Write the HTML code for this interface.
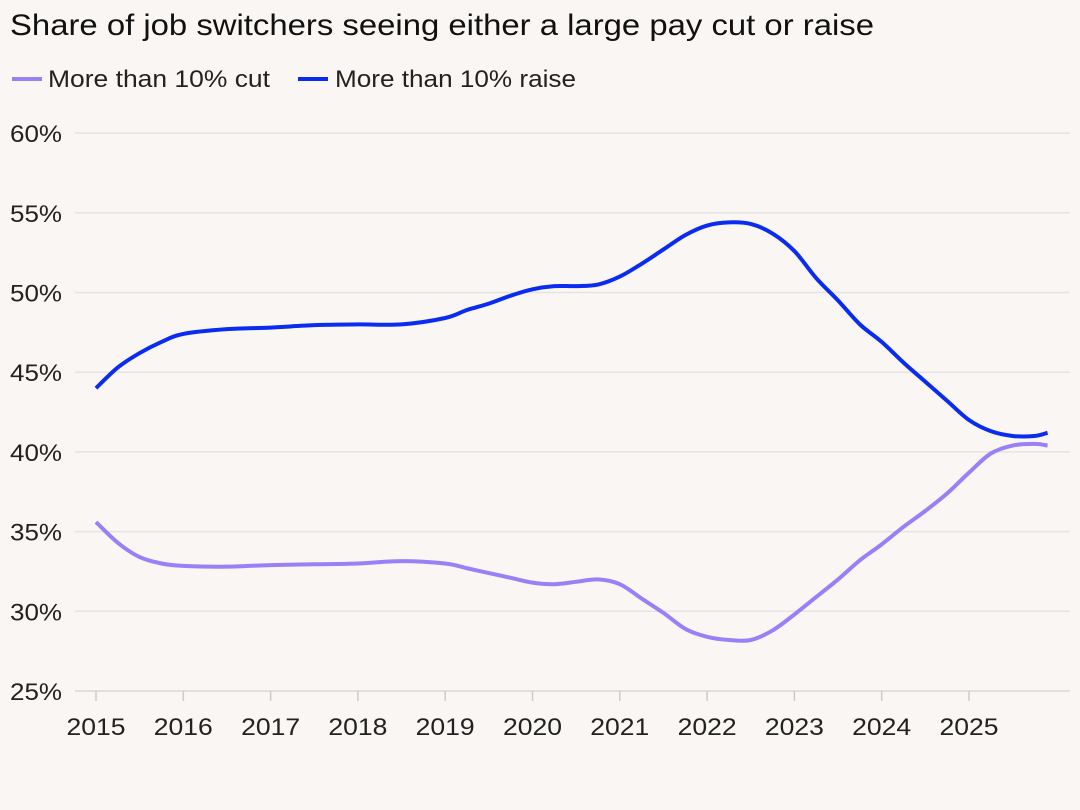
<!DOCTYPE html>
<html><head><meta charset="utf-8"><style>
body{margin:0;background:#f9f6f3;font-family:"Liberation Sans",sans-serif;}
svg{display:block}
</style></head><body>
<svg id="chart" width="1080" height="810">
<rect width="1080" height="810" fill="#f9f6f3"/>
<text x="10" y="35" font-size="30" fill="#111" textLength="864" lengthAdjust="spacingAndGlyphs">Share of job switchers seeing either a large pay cut or raise</text>
<g>
<g><line x1="12" y1="79" x2="42" y2="79" stroke="#9a80f7" stroke-width="4"/><text x="48" y="87" font-size="24" fill="#222" textLength="222" lengthAdjust="spacingAndGlyphs">More than 10% cut</text></g>
<g><line x1="298" y1="79" x2="328" y2="79" stroke="#0a2cf0" stroke-width="4"/><text x="335" y="87" font-size="24" fill="#222" textLength="241" lengthAdjust="spacingAndGlyphs">More than 10% raise</text></g>
</g>
<g id="grid"></g><g id="series"></g>
</svg>
<script>
const years=[2015,2016,2017,2018,2019,2020,2021,2022,2023,2024,2025];
const yTicks=[25,30,35,40,45,50,55,60];
const tX=[2015,2015.25,2015.5,2015.75,2016,2016.5,2017,2017.5,2018,2018.5,2019,2019.25,2019.5,2019.75,2020,2020.25,2020.5,2020.75,2021,2021.25,2021.5,2021.75,2022,2022.25,2022.5,2022.75,2023,2023.25,2023.5,2023.75,2024,2024.25,2024.5,2024.75,2025,2025.25,2025.5,2025.75,2025.9];
const raise=[44.0,45.3,46.2,46.9,47.4,47.7,47.8,47.95,48.0,48.0,48.4,48.9,49.3,49.8,50.2,50.4,50.4,50.5,51.0,51.8,52.7,53.6,54.2,54.4,54.3,53.7,52.6,50.9,49.5,48.0,46.9,45.6,44.4,43.2,42.0,41.3,41.0,41.0,41.2];
const cut=[35.6,34.3,33.4,33.0,32.85,32.8,32.9,32.95,33.0,33.15,33.0,32.7,32.4,32.1,31.8,31.7,31.85,32.0,31.7,30.8,29.9,28.9,28.4,28.2,28.2,28.8,29.8,30.9,32.0,33.2,34.2,35.3,36.3,37.4,38.7,39.9,40.4,40.5,40.4];
const NS="http://www.w3.org/2000/svg";
const xs=v=>96+(v-2015)*87.3;
const ys=v=>691-(v-25)*15.94;
const grid=document.getElementById('grid');
function mk(t,a,p){const e=document.createElementNS(NS,t);for(const k in a)e.setAttribute(k,a[k]);p.appendChild(e);return e;}
yTicks.forEach(v=>{
 const l=mk('line',{x1:75,x2:1070,y1:ys(v),y2:ys(v),stroke:v===25?'#d8d8d8':'#e6e4e1','stroke-width':1.5},grid);
 
 
 const t=mk('text',{x:10,y:ys(v)+9,'font-size':24,fill:'#222',textLength:52,lengthAdjust:'spacingAndGlyphs'},grid);
 t.textContent=v+'%';
 
 
});
years.forEach(y=>{
 const l=mk('line',{x1:xs(y),x2:xs(y),y1:691,y2:701,stroke:'#ccc','stroke-width':1.5},grid);
 
 
 const t=mk('text',{x:xs(y),y:735,'font-size':24,fill:'#222','text-anchor':'middle',textLength:59,lengthAdjust:'spacingAndGlyphs'},grid);
 t.textContent=y;
 
 
});
function path(vals){
 const p=tX.map((x,i)=>[xs(x),ys(vals[i])]);
 let d='M'+p[0][0]+','+p[0][1];
 for(let i=0;i<p.length-1;i++){
  const p0=p[Math.max(0,i-1)],p1=p[i],p2=p[i+1],p3=p[Math.min(p.length-1,i+2)];
  const c1=[p1[0]+(p2[0]-p0[0])/6,p1[1]+(p2[1]-p0[1])/6];
  const c2=[p2[0]-(p3[0]-p1[0])/6,p2[1]-(p3[1]-p1[1])/6];
  d+=' C'+c1+' '+c2+' '+p2;
 }
 return d;
}
const s=document.getElementById('series');
const a=mk('path',{d:path(cut),fill:'none',stroke:'#9a80f7','stroke-width':4,'stroke-linejoin':'round'},s);


const b=mk('path',{d:path(raise),fill:'none',stroke:'#0a2cf0','stroke-width':4,'stroke-linejoin':'round'},s);


</script>
</body></html>
